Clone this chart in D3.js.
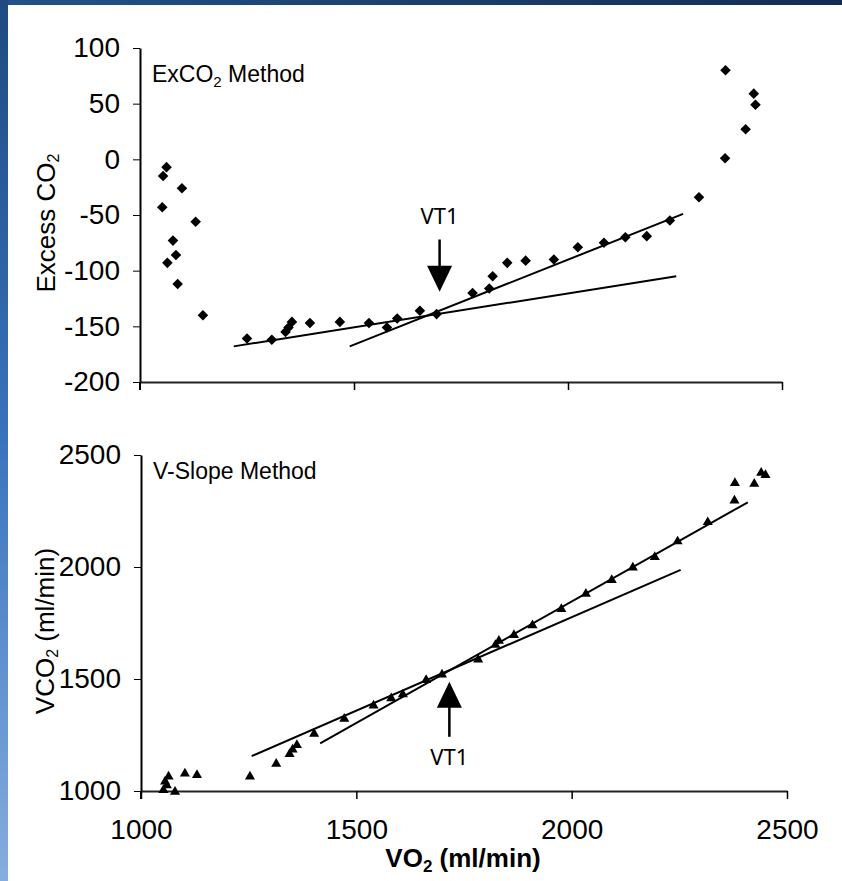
<!DOCTYPE html>
<html>
<head>
<meta charset="utf-8">
<script src="https://cdn.jsdelivr.net/npm/d3@7"></script>
<style>
  body { margin: 0; background: #fff; }
  svg { display: block; }
  .tick text, .lbl { font-family: "Liberation Sans Narrow", "Liberation Sans", Arial, sans-serif; fill: #000; }
  .vt { font-family: "Noto Sans", "Open Sans", sans-serif; font-size: 22px; fill: #000; }
</style>
</head>
<body>
<svg id="chart"></svg>
<script>
// ---- data ----
// ExCO2 method (top panel)
const exVO2 = [1062, 1054, 1098, 1052, 1130, 1077, 1084, 1064, 1088, 1147,
  1250, 1308, 1340, 1347, 1355, 1397, 1467, 1535, 1577, 1601, 1654, 1693,
  1777, 1816, 1824, 1858, 1901, 1967, 2023, 2084, 2134, 2184, 2238, 2306,
  2367, 2415, 2368, 2434, 2438];
const exCO2 = [-7, -15, -26, -43, -56, -73, -86, -93, -112, -140,
  -161, -162, -155, -151, -146, -147, -146, -147, -151, -143, -136, -139,
  -120, -116, -105, -93, -91, -90, -79, -75, -70, -69, -55, -34,
  1, 27, 80, 59, 49];
const exFitLow = [[1219, -168], [2253, -105]];
const exFitHigh = [[1490, -168], [2269, -49]];

// V-slope method (bottom panel)
const vsVO2 = [1064, 1056, 1052, 1060, 1079, 1102, 1130,
  1253, 1314, 1345, 1352, 1362, 1402, 1472, 1540, 1581, 1608, 1662, 1699,
  1783, 1823, 1831, 1866, 1909, 1976, 2033, 2093, 2142, 2193, 2246, 2316,
  2378, 2379, 2424, 2440, 2450];
const vsVCO2 = [1064, 1042, 1004, 1025, 996, 1078, 1071,
  1064, 1121, 1165, 1185, 1205, 1255, 1322, 1381, 1414, 1431, 1495, 1520,
  1587, 1652, 1670, 1696, 1740, 1812, 1880, 1942, 1997, 2044, 2114, 2200,
  2297, 2375, 2371, 2420, 2410];
const vsFitLow = [[1257, 1156], [2253, 1987]];
const vsFitHigh = [[1416, 1213], [2409, 2289]];

// VT1 markers: [vo2, arrow tail, arrow tip, label value]
const vt1Top = [1700, -72, -119, -51];
const vt1Bottom = [1716, 1242, 1488, 1152];

const xTicks = [1000, 1500, 2000, 2500];
const exTicks = [-200, -150, -100, -50, 0, 50, 100];
const vsTicks = [1000, 1500, 2000, 2500];

// ---- layout ----
const W = 842, H = 881;
const svg = d3.select("#chart").attr("width", W).attr("height", H);

// blue slide frame
const defs = svg.append("defs");
const gl = defs.append("linearGradient").attr("id", "side")
  .attr("x1", 0).attr("y1", 0).attr("x2", 0).attr("y2", 1);
gl.append("stop").attr("offset", 0).attr("stop-color", "#1f4a80");
gl.append("stop").attr("offset", 0.5).attr("stop-color", "#3a73bd");
gl.append("stop").attr("offset", 1).attr("stop-color", "#86addf");
const gt = defs.append("linearGradient").attr("id", "topbar")
  .attr("x1", 0).attr("y1", 0).attr("x2", 1).attr("y2", 0);
gt.append("stop").attr("offset", 0).attr("stop-color", "#235289");
gt.append("stop").attr("offset", 1).attr("stop-color", "#132d52");
svg.append("rect").attr("x", 0).attr("y", 0).attr("width", W).attr("height", 5).attr("fill", "url(#topbar)");
svg.append("rect").attr("x", 0).attr("y", 0).attr("width", 8).attr("height", H).attr("fill", "url(#side)");

const x1 = d3.scaleLinear([1000, 2500], [140, 782]);
const y1 = d3.scaleLinear([-200, 100], [382, 48]);
const x2 = d3.scaleLinear([1000, 2500], [141, 787]);
const y2 = d3.scaleLinear([1000, 2500], [791, 455]);

const plain = d => String(d); // hyphen-minus, as in the figure

function drawPanel(x, y, yTicks, showX) {
  const g = svg.append("g");
  // x axis
  const xa = g.append("g").attr("transform", `translate(0,${y.range()[0]})`)
    .call(d3.axisBottom(x).tickValues(showX ? xTicks : xTicks.slice(1))
      .tickSize(8).tickSizeOuter(0).tickPadding(20)
      .tickFormat(showX ? plain : () => ""));
  xa.select(".domain").attr("stroke", "#222").attr("stroke-width", 2);
  xa.selectAll(".tick line").attr("stroke", "#000").attr("stroke-width", 1.5);
  xa.selectAll(".tick text").attr("font-size", 28).attr("dy", "0.71em");
  // y axis
  const ya = g.append("g").attr("transform", `translate(${x.range()[0]},0)`)
    .call(d3.axisLeft(y).tickValues(yTicks).tickSize(7).tickSizeOuter(0)
      .tickPadding(13).tickFormat(plain));
  ya.select(".domain").attr("stroke", "#000").attr("stroke-width", 2);
  ya.selectAll(".tick line").attr("stroke", "#000").attr("stroke-width", 1);
  ya.selectAll(".tick text").attr("font-size", 28);
  // axis extends a little below x axis
  g.append("line")
    .attr("x1", x.range()[0]).attr("x2", x.range()[0])
    .attr("y1", y.range()[0]).attr("y2", y.range()[0] + 8)
    .attr("stroke", "#000").attr("stroke-width", 2);
  return g;
}

function fitLine(g, x, y, pts) {
  g.append("path")
    .attr("d", d3.line().x(d => x(d[0])).y(d => y(d[1]))(pts))
    .attr("fill", "none").attr("stroke", "#000").attr("stroke-width", 2);
}

function vtArrow(g, x, y, v, down) {
  const px = x(v[0]), tail = y(v[1]), tip = y(v[2]);
  const dir = down ? -1 : 1; // head points toward tip
  g.append("line").attr("x1", px).attr("x2", px)
    .attr("y1", tail).attr("y2", tip + dir * 20)
    .attr("stroke", "#000").attr("stroke-width", 2.5);
  g.append("path")
    .attr("d", `M${px},${tip}L${px - 12.5},${tip + dir * 26}L${px + 12.5},${tip + dir * 26}Z`)
    .attr("fill", "#000");
  g.append("text").attr("class", "vt")
    .attr("x", px).attr("y", y(v[3])).attr("dy", "0.36em")
    .attr("text-anchor", "middle").text("VT1");
}

// ---- top panel: ExCO2 ----
const topPanel = drawPanel(x1, y1, exTicks, false);
fitLine(topPanel, x1, y1, exFitLow);
fitLine(topPanel, x1, y1, exFitHigh);
topPanel.append("g").selectAll("path")
  .data(d3.range(exVO2.length))
  .join("path")
  .attr("transform", i => `translate(${x1(exVO2[i])},${y1(exCO2[i])}) rotate(45)`)
  .attr("d", d3.symbol(d3.symbolSquare, 56))
  .attr("fill", "#000");
vtArrow(topPanel, x1, y1, vt1Top, true);

const t1 = topPanel.append("text").attr("class", "lbl").attr("x", 152).attr("y", 82).attr("font-size", 23);
t1.append("tspan").text("ExCO");
t1.append("tspan").attr("font-size", 15).attr("dy", 5).text("2");
t1.append("tspan").attr("dy", -5).text(" Method");

const yl1 = topPanel.append("text").attr("class", "lbl").attr("font-size", 26)
  .attr("transform", "translate(55,223) rotate(-90)").attr("text-anchor", "middle");
yl1.append("tspan").text("Excess CO");
yl1.append("tspan").attr("font-size", 16).attr("dy", 4).text("2");

// ---- bottom panel: V-slope ----
const botPanel = drawPanel(x2, y2, vsTicks, true);
fitLine(botPanel, x2, y2, vsFitLow);
fitLine(botPanel, x2, y2, vsFitHigh);
botPanel.append("g").selectAll("path")
  .data(d3.range(vsVO2.length))
  .join("path")
  .attr("transform", i => `translate(${x2(vsVO2[i])},${y2(vsVCO2[i])})`)
  .attr("d", d3.symbol(d3.symbolTriangle, 44))
  .attr("fill", "#000");
vtArrow(botPanel, x2, y2, vt1Bottom, false);

const t2 = botPanel.append("text").attr("class", "lbl").attr("x", 153).attr("y", 479).attr("font-size", 23);
t2.append("tspan").text("V-Slope Method");

const yl2 = botPanel.append("text").attr("class", "lbl").attr("font-size", 26)
  .attr("transform", "translate(54,631) rotate(-90)").attr("text-anchor", "middle");
yl2.append("tspan").text("VCO");
yl2.append("tspan").attr("font-size", 16).attr("dy", 4).text("2");
yl2.append("tspan").attr("dy", -4).text(" (ml/min)");

const xl = botPanel.append("text").attr("class", "lbl").attr("font-size", 26).attr("font-weight", "bold")
  .attr("x", 463).attr("y", 867).attr("text-anchor", "middle");
xl.append("tspan").text("VO");
xl.append("tspan").attr("font-size", 17).attr("dy", 5).text("2");
xl.append("tspan").attr("dy", -5).text(" (ml/min)");
</script>
</body>
</html>
